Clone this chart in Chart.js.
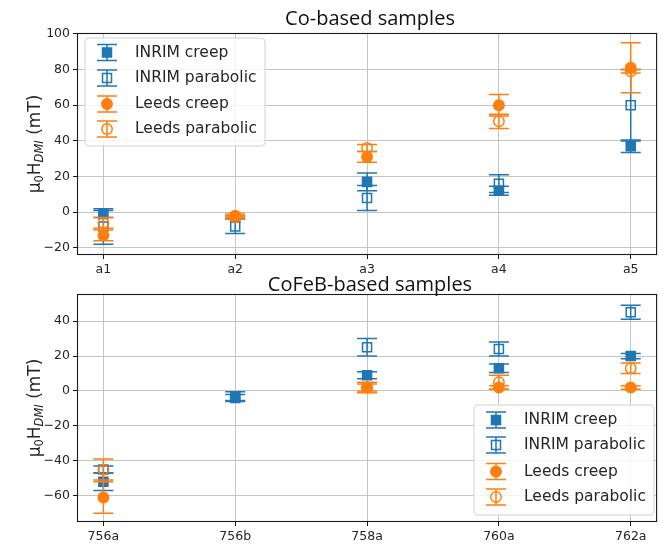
<!DOCTYPE html>
<html>
<head>
<meta charset="utf-8">
<script src="https://cdn.jsdelivr.net/npm/chart.js@4/dist/chart.umd.min.js"></script>
<style>
  html, body { margin: 0; padding: 0; background: #fff; }
  #wrap { position: relative; width: 665px; height: 544px; overflow: hidden; }
  canvas { position: absolute; left: 0; }
</style>
</head>
<body>
<div id="wrap">
  <canvas id="coChart" width="665" height="280" style="top:0"></canvas>
  <canvas id="cofebChart" width="665" height="274" style="top:270px"></canvas>
</div>
<script>
// ---- Co-based samples ----
const coCategories = ['a1', 'a2', 'a3', 'a4', 'a5'];
const coInrimCreep = [-1, -3, 17, 12, 37];
const coInrimCreepErr = [2, 1, 5, 2.5, 3.5];
const coInrimParabolic = [-8, -8, 8, 16, 60];
const coInrimParabolicErr = [10, 4, 7, 5, 20];
const coLeedsCreep = [-13, -2, 31, 60, 81];
const coLeedsCreepErr = [3, 1, 3, 6, 14];
const coLeedsParabolic = [-6, -3, 36, 51, 79];
const coLeedsParabolicErr = [3, 1, 2, 4, 1];
const coYTicks = [-20, 0, 20, 40, 60, 80, 100];

// ---- CoFeB-based samples ----
const cofebCategories = ['756a', '756b', '758a', '760a', '762a'];
const cofebInrimCreep = [-52, -3, 9, 13, 20];
const cofebInrimCreepErr = [5, 2.5, 2, 2.5, 1.5];
const cofebInrimParabolic = [-45, -4, 25, 24, 45];
const cofebInrimParabolicErr = [2, 2, 5, 4, 4];
const cofebLeedsCreep = [-61, null, 2, 2, 2];
const cofebLeedsCreepErr = [9, null, 3, 1, 1];
const cofebLeedsParabolic = [-45, null, 2, 5, 13];
const cofebLeedsParabolicErr = [6, null, 2, 4, 3];
const cofebYTicks = [-60, -40, -20, 0, 20, 40];

const BLUE = '#1f77b4';
const ORANGE = '#ff7f0e';
const GRID = '#c4c4c4';
const INK = '#262626';
const TICK_FONT = { family: 'DejaVu Sans', size: 12.5 };

const seriesStyles = [
  { label: 'INRIM creep',     color: BLUE,   shape: 'rect',   filled: true },
  { label: 'INRIM parabolic', color: BLUE,   shape: 'rect',   filled: false },
  { label: 'Leeds creep',     color: ORANGE, shape: 'circle', filled: true },
  { label: 'Leeds parabolic', color: ORANGE, shape: 'circle', filled: false }
];

function buildDatasets(values, errors) {
  return values.map((vals, s) => {
    const st = seriesStyles[s];
    return {
      label: st.label,
      data: vals.map((v, i) => ({ x: i, y: v })),
      errors: errors[s],
      showLine: false,
      pointStyle: st.shape,
      pointRadius: st.shape === 'rect' ? 6.4 : 5.2,
      pointBorderWidth: 1.5,
      pointBorderColor: st.color,
      pointBackgroundColor: st.filled ? st.color : 'rgba(0,0,0,0)',
      borderColor: st.color,
      order: 3 - s
    };
  });
}

// Vertical error bars with caps, drawn just beneath each dataset's markers
const errorBars = {
  id: 'errorBars',
  beforeDatasetDraw(chart, args) {
    const ds = chart.data.datasets[args.index];
    const xs = chart.scales.x, ys = chart.scales.y;
    const ctx = chart.ctx;
    ctx.save();
    ctx.strokeStyle = ds.borderColor;
    ctx.lineWidth = 1.5;
    ds.data.forEach((p, i) => {
      const e = ds.errors[i];
      if (p.y === null || e === null) return;
      const px = xs.getPixelForValue(p.x);
      const top = ys.getPixelForValue(p.y + e);
      const bot = ys.getPixelForValue(p.y - e);
      ctx.beginPath();
      ctx.moveTo(px, top); ctx.lineTo(px, bot);
      ctx.moveTo(px - 10, top); ctx.lineTo(px + 10, top);
      ctx.moveTo(px - 10, bot); ctx.lineTo(px + 10, bot);
      ctx.stroke();
    });
    ctx.restore();
  }
};

function drawMarker(ctx, st, x, y) {
  ctx.save();
  ctx.lineWidth = 1.5;
  ctx.strokeStyle = st.color;
  ctx.fillStyle = st.color;
  ctx.beginPath();
  ctx.moveTo(x, y - 8); ctx.lineTo(x, y + 8);
  ctx.moveTo(x - 10, y - 8); ctx.lineTo(x + 10, y - 8);
  ctx.moveTo(x - 10, y + 8); ctx.lineTo(x + 10, y + 8);
  ctx.stroke();
  ctx.beginPath();
  if (st.shape === 'rect') {
    ctx.rect(x - 4.5, y - 4.5, 9, 9);
  } else {
    ctx.arc(x, y, 5.2, 0, Math.PI * 2);
  }
  if (st.filled) ctx.fill();
  ctx.stroke();
  ctx.restore();
}

function roundRect(ctx, x, y, w, h, r) {
  ctx.beginPath();
  ctx.moveTo(x + r, y);
  ctx.lineTo(x + w - r, y); ctx.arcTo(x + w, y, x + w, y + r, r);
  ctx.lineTo(x + w, y + h - r); ctx.arcTo(x + w, y + h, x + w - r, y + h, r);
  ctx.lineTo(x + r, y + h); ctx.arcTo(x, y + h, x, y + h - r, r);
  ctx.lineTo(x, y + r); ctx.arcTo(x, y, x + r, y, r);
  ctx.closePath();
}

// Frame, title, rotated y-axis label and in-plot legend
const decorations = {
  id: 'decorations',
  afterDraw(chart, args, opts) {
    const ctx = chart.ctx;
    const a = chart.chartArea;
    ctx.save();
    // axes frame
    ctx.strokeStyle = '#1a1a1a';
    ctx.lineWidth = 1.1;
    ctx.strokeRect(a.left + 0.5, a.top + 0.5, a.right - a.left - 1, a.bottom - a.top - 1);

    // title
    ctx.fillStyle = '#111';
    ctx.font = '20px "Open Sans"';
    ctx.textAlign = 'center';
    ctx.textBaseline = 'alphabetic';
    ctx.fillText(opts.title, 370, opts.titleY);

    // y label: mu_0 H_DMI (mT)
    const cy = (a.top + a.bottom) / 2;
    ctx.translate(36, cy);
    ctx.rotate(-Math.PI / 2);
    const big = '17px "DejaVu Sans"';
    const sub = '11.5px "DejaVu Sans"';
    const subIt = 'italic 11.5px "DejaVu Sans"';
    const parts = [
      { t: 'μ', f: big, dy: 0 },
      { t: '0', f: sub, dy: 4 },
      { t: 'H', f: big, dy: 0 },
      { t: 'DMI', f: subIt, dy: 4 },
      { t: ' (mT)', f: big, dy: 0 }
    ];
    let total = 0;
    parts.forEach(p => { ctx.font = p.f; p.w = ctx.measureText(p.t).width; total += p.w; });
    let x = -total / 2;
    ctx.textAlign = 'left';
    ctx.textBaseline = 'middle';
    ctx.fillStyle = INK;
    parts.forEach(p => { ctx.font = p.f; ctx.fillText(p.t, x, p.dy); x += p.w; });
    ctx.restore();

    // legend
    const L = opts.legend;
    ctx.save();
    roundRect(ctx, L.x, L.y, L.w, L.h, 4);
    ctx.fillStyle = 'rgba(255,255,255,0.82)';
    ctx.fill();
    ctx.strokeStyle = '#d2d2d2';
    ctx.lineWidth = 1;
    ctx.stroke();
    ctx.font = '15.5px "DejaVu Sans"';
    ctx.textAlign = 'left';
    ctx.textBaseline = 'middle';
    seriesStyles.forEach((st, i) => {
      const ry = L.rowY[i];
      drawMarker(ctx, st, L.x + 22, ry);
      ctx.fillStyle = INK;
      ctx.fillText(st.label, L.x + 50, ry);
    });
    ctx.restore();
  }
};

function makeChart(id, cfg) {
  return new Chart(document.getElementById(id), {
    type: 'line',
    data: { datasets: buildDatasets(cfg.values, cfg.errors) },
    plugins: [errorBars, decorations],
    options: {
      responsive: false,
      animation: false,
      devicePixelRatio: 1,
      layout: { padding: { top: cfg.padTop, right: cfg.padRight, left: 0, bottom: 0 } },
      plugins: {
        legend: { display: false },
        tooltip: { enabled: false },
        decorations: { title: cfg.title, titleY: cfg.titleY, legend: cfg.legend }
      },
      scales: {
        x: {
          type: 'linear',
          min: -0.2, max: 4.2,
          afterBuildTicks: s => { s.ticks = cfg.categories.map((c, i) => ({ value: i })); },
          afterFit: s => { s.height = cfg.xAxisHeight; },
          ticks: {
            callback: v => cfg.categories[v],
            font: TICK_FONT, color: INK, padding: 3, maxRotation: 0, autoSkip: false
          },
          grid: { color: GRID, lineWidth: 1, tickColor: '#1a1a1a', tickLength: 4 },
          border: { display: false }
        },
        y: {
          type: 'linear',
          min: cfg.yMin, max: cfg.yMax,
          afterBuildTicks: s => { s.ticks = cfg.yTicks.map(v => ({ value: v })); },
          afterFit: s => { s.width = 77; },
          ticks: {
            callback: v => (v < 0 ? '\u2212' + Math.abs(v) : String(v)),
            font: TICK_FONT, color: INK, padding: 3
          },
          grid: { color: GRID, lineWidth: 1, tickColor: '#1a1a1a', tickLength: 4 },
          border: { display: false }
        }
      }
    }
  });
}

makeChart('coChart', {
  categories: coCategories,
  values: [coInrimCreep, coInrimParabolic, coLeedsCreep, coLeedsParabolic],
  errors: [coInrimCreepErr, coInrimParabolicErr, coLeedsCreepErr, coLeedsParabolicErr],
  yTicks: coYTicks, yMin: -24, yMax: 100.5,
  padTop: 33, padRight: 2, xAxisHeight: 25,
  title: 'Co-based samples', titleY: 25,
  legend: { x: 85, y: 38, w: 180, h: 108, rowY: [52.5, 78, 104, 129] }
});

makeChart('cofebChart', {
  categories: cofebCategories,
  values: [cofebInrimCreep, cofebInrimParabolic, cofebLeedsCreep, cofebLeedsParabolic],
  errors: [cofebInrimCreepErr, cofebInrimParabolicErr, cofebLeedsCreepErr, cofebLeedsParabolicErr],
  yTicks: cofebYTicks, yMin: -75, yMax: 55.5,
  padTop: 24, padRight: 3, xAxisHeight: 22,
  title: 'CoFeB-based samples', titleY: 21,
  legend: { x: 474, y: 135, w: 180, h: 110, rowY: [150, 175, 201.5, 227] }
});
</script>
</body>
</html>
